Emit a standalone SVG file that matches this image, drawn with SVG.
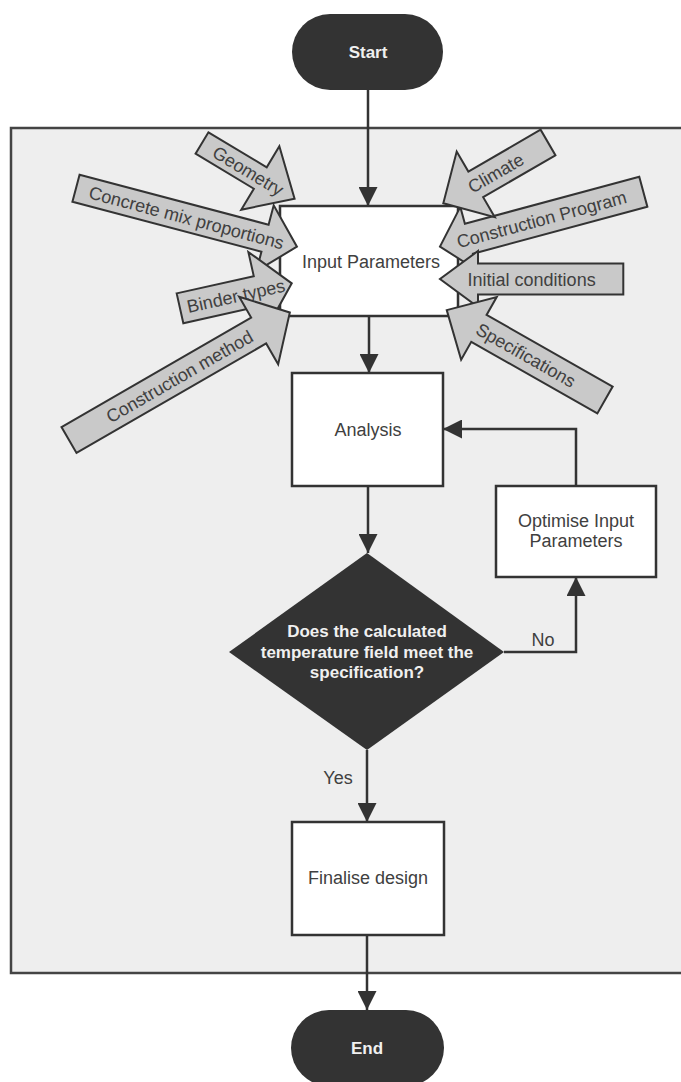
<svg xmlns="http://www.w3.org/2000/svg" width="681" height="1082" viewBox="0 0 681 1082">
  <defs>
    <marker id="head" viewBox="0 0 19 19" refX="19" refY="9.5" markerWidth="19" markerHeight="19" markerUnits="userSpaceOnUse" orient="auto">
      <path d="M0,0 L19,9.5 L0,19 Z" fill="#333"/>
    </marker>
    <style>
      .panel { fill: #eeeeee; stroke: #444; stroke-width: 2.5; }
      .box { fill: #ffffff; stroke: #333; stroke-width: 2.5; }
      .term { fill: #333333; }
      .dark { fill: #333333; }
      .pointer { fill: #c9c9c9; stroke: #333; stroke-width: 2; stroke-linejoin: miter; }
      .conn { fill: none; stroke: #333; stroke-width: 2.5; marker-end: url(#head); }
      .lbl { font-family: "Liberation Sans", Arial, sans-serif; font-size: 18px; fill: #404040; text-anchor: middle; }
      .wlbl { font-family: "Liberation Sans", Arial, sans-serif; font-size: 17px; font-weight: bold; fill: #f0f0f0; text-anchor: middle; }
    </style>
  </defs>

  <!-- white page -->
  <rect x="0" y="0" width="681" height="1082" fill="#ffffff"/>

  <!-- design loop container -->
  <rect id="container" class="panel" x="11" y="128" width="680" height="845"/>

  <!-- connectors -->
  <g id="connectors">
    <path class="conn" d="M368,90 V206"/>
    <path class="conn" d="M369,316 V373"/>
    <path class="conn" d="M368,486 V553"/>
    <path class="conn" d="M504,652 H576 V577"/>
    <path class="conn" d="M576,486 V429 H443"/>
    <path class="conn" d="M367,750 V822"/>
    <path class="conn" d="M367,935 V1010"/>
    <text class="lbl" x="543" y="646">No</text>
    <text class="lbl" x="338" y="784">Yes</text>
  </g>

  <g id="start">
    <rect class="term" x="292" y="14" width="151" height="76" rx="38"/>
    <text class="wlbl" x="368" y="58">Start</text>
  </g>

  <g id="input-parameters">
    <rect class="box" x="280" y="206" width="178" height="110"/>
    <text class="lbl" x="371" y="268">Input Parameters</text>
  </g>

  <!-- input pointers, left side -->
  <g id="in-concrete-mix">
    <polygon class="pointer" transform="translate(76,188.3) rotate(14.8)" points="0,-14 195.5,-14 195.5,-34 228.5,0 195.5,34 195.5,14 0,14"/>
    <text class="lbl" transform="translate(186.5,217.5) rotate(14.8)" y="6.5">Concrete mix proportions</text>
  </g>
  <g id="in-geometry">
    <polygon class="pointer" transform="translate(202,143) rotate(31)" points="0,-12.5 68,-12.5 68,-37 108,0 68,37 68,12.5 0,12.5"/>
    <text class="lbl" transform="translate(248.3,170.8) rotate(31)" y="6.5">Geometry</text>
  </g>
  <g id="in-binder-types">
    <polygon class="pointer" transform="translate(180,308.3) rotate(-12.6)" points="0,-15.3 79,-15.3 79,-40 114.5,0 79,40 79,15.3 0,15.3"/>
    <text class="lbl" transform="translate(235.9,295.8) rotate(-12.6)" y="6.5">Binder types</text>
  </g>
  <g id="in-construction-method">
    <polygon class="pointer" transform="translate(69,440) rotate(-30)" points="0,-15 219,-15 219,-39 255,0 219,39 219,15 0,15"/>
    <text class="lbl" transform="translate(179.4,376.3) rotate(-30)" y="6.5">Construction method</text>
  </g>

  <!-- input pointers, right side -->
  <g id="in-construction-program">
    <polygon class="pointer" transform="translate(643.3,191.7) rotate(164.9)" points="0,-15.5 180.6,-15.5 180.6,-33 210.6,0 180.6,33 180.6,15.5 0,15.5"/>
    <text class="lbl" transform="translate(541.6,219.2) rotate(-15.1)" y="6.5">Construction Program</text>
  </g>
  <g id="in-climate">
    <polygon class="pointer" transform="translate(548,142.5) rotate(149.9)" points="0,-14.75 83.5,-14.75 83.5,-38 121,0 83.5,38 83.5,14.75 0,14.75"/>
    <text class="lbl" transform="translate(495.7,172.8) rotate(-30.1)" y="6.5">Climate</text>
  </g>
  <g id="in-initial-conditions">
    <polygon class="pointer" transform="translate(623.3,279) rotate(180)" points="0,-15.5 145.3,-15.5 145.3,-28 183.3,0 145.3,28 145.3,15.5 0,15.5"/>
    <text class="lbl" transform="translate(531.6,279)" y="6.5">Initial conditions</text>
  </g>
  <g id="in-specifications">
    <polygon class="pointer" transform="translate(605,400) rotate(209.6)" points="0,-15.5 145,-15.5 145,-36 182,0 145,36 145,15.5 0,15.5"/>
    <text class="lbl" transform="translate(525.9,355) rotate(29.6)" y="6.5">Specifications</text>
  </g>

  <g id="analysis">
    <rect class="box" x="292" y="373" width="151" height="113"/>
    <text class="lbl" x="368" y="436">Analysis</text>
  </g>

  <g id="optimise">
    <rect class="box" x="496" y="486" width="160" height="91"/>
    <text class="lbl" x="576" y="527">Optimise Input</text>
    <text class="lbl" x="576" y="547">Parameters</text>
  </g>

  <g id="check-temperature">
    <polygon class="dark" points="367,553 504,652 367,750 229,652"/>
    <text class="wlbl" x="367" y="637">Does the calculated</text>
    <text class="wlbl" x="367" y="658">temperature field meet the</text>
    <text class="wlbl" x="367" y="678">specification?</text>
  </g>

  <g id="finalise">
    <rect class="box" x="292" y="822" width="152" height="113"/>
    <text class="lbl" x="368" y="884">Finalise design</text>
  </g>

  <g id="end">
    <rect class="term" x="291" y="1010" width="153" height="76" rx="38"/>
    <text class="wlbl" x="367" y="1054">End</text>
  </g>
</svg>
